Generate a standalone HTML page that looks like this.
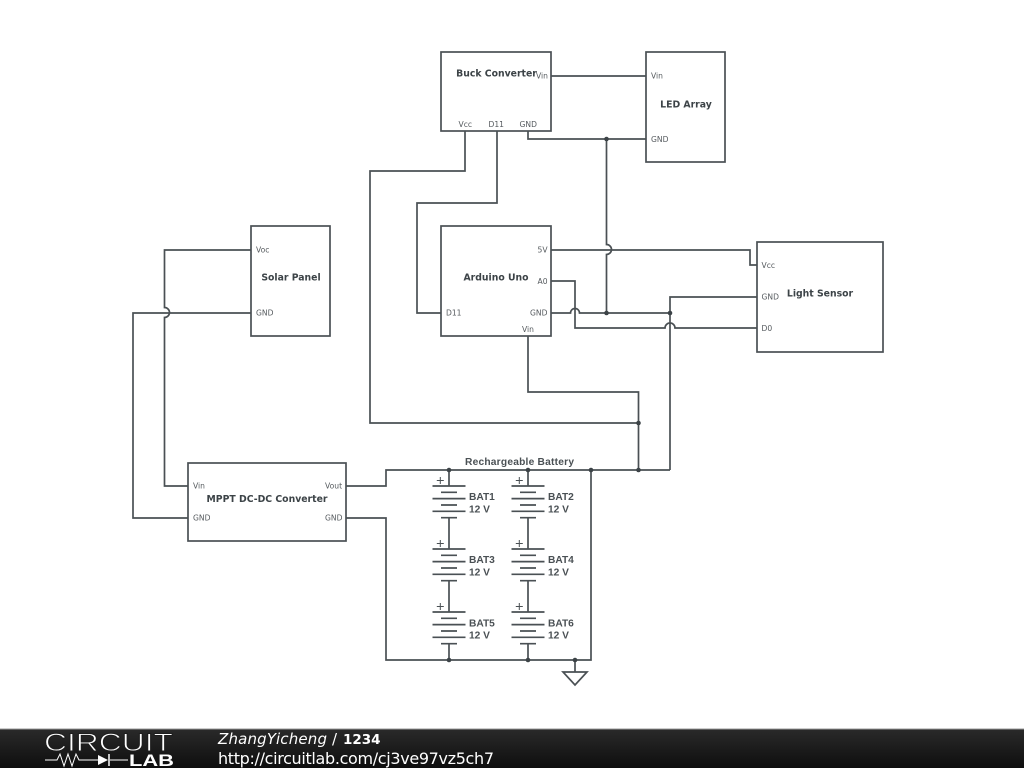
<!DOCTYPE html>
<html><head><meta charset="utf-8"><style>
html,body{margin:0;padding:0;background:#fff;width:1024px;height:768px;overflow:hidden}
svg{display:block}
.w{fill:none;stroke:#4a5054;stroke-width:1.7}
.b{fill:#fff;stroke:#4a5054;stroke-width:1.7}
.p{font:7.6px "DejaVu Sans",sans-serif;fill:#555a5e}
.t{font:bold 9.3px "DejaVu Sans",sans-serif;fill:#3c4347;text-anchor:middle}
.l{font:bold 10.2px "Liberation Sans",sans-serif;fill:#4a5054}
.d{fill:#3c4347}
</style></head><body>
<svg width="1024" height="768" viewBox="0 0 1024 768" xmlns="http://www.w3.org/2000/svg">
<defs>
<linearGradient id="g" x1="0" y1="0" x2="0" y2="1"><stop offset="0" stop-color="#2a2a2a"/><stop offset="1" stop-color="#0e0e0e"/></linearGradient>
<g id="bat" class="w">
<path d="M-16.500 0H16.500M-8 6.300H8M-16.500 12.600H16.500M-8 19H8M-16.500 25.300H16.500M-8 31.700H8"/>
<path d="M-12.200 -5.500H-5.200M-8.700 -9V-2" stroke-width="1"/>
</g>
</defs>
<!-- wires -->
<g class="w">
<path d="M551 76H646"/>
<path d="M528 131V139H646"/>
<path d="M606.500 139V244.500A5 5 0 0 1 606.500 254.500V313"/>
<path d="M465 131V171H370V423H638.500"/>
<path d="M497 131V203H417V313H441"/>
<path d="M551 250H750V265H757"/>
<path d="M551 281H575V328H665A5 5 0 0 1 675 328H757"/>
<path d="M551 313H570.500A4.500 4.500 0 0 1 579.500 313H670"/>
<path d="M757 297H670V470"/>
<path d="M528 336V392H638.500V470"/>
<path d="M346 486H386V470H670"/>
<path d="M346 518H386V660H591V470"/>
<path d="M575 660V672"/>
<path d="M563 672H587L575 685Z"/>
<path d="M251 250H164.500V307.500A5 5 0 0 1 164.500 317.500V486H188"/>
<path d="M251 313H133V518H188"/>
<path d="M449 470V486M449 518V549M449 581V612M449 644V660"/>
<path d="M528 470V486M528 518V549M528 581V612M528 644V660"/>
</g>
<!-- batteries -->
<use href="#bat" x="449" y="486"/><use href="#bat" x="528" y="486"/>
<use href="#bat" x="449" y="549"/><use href="#bat" x="528" y="549"/>
<use href="#bat" x="449" y="612"/><use href="#bat" x="528" y="612"/>
<!-- dots -->
<g class="d">
<circle cx="606.500" cy="139" r="2.300"/><circle cx="606.500" cy="313" r="2.300"/><circle cx="670" cy="313" r="2.300"/>
<circle cx="638.500" cy="423" r="2.300"/><circle cx="638.500" cy="470" r="2.300"/>
<circle cx="449" cy="470" r="2.300"/><circle cx="528" cy="470" r="2.300"/><circle cx="591" cy="470" r="2.300"/>
<circle cx="449" cy="660" r="2.300"/><circle cx="528" cy="660" r="2.300"/><circle cx="575" cy="660" r="2.300"/>
</g>
<!-- boxes -->
<rect class="b" x="441" y="52" width="110" height="79"/>
<rect class="b" x="646" y="52" width="79" height="110"/>
<rect class="b" x="251" y="226" width="79" height="110"/>
<rect class="b" x="441" y="226" width="110" height="110"/>
<rect class="b" x="757" y="242" width="126" height="110"/>
<rect class="b" x="188" y="463" width="158" height="78"/>
<!-- titles -->
<text class="t" x="496.500" y="76.500">Buck Converter</text>
<text class="t" x="686" y="107.500">LED Array</text>
<text class="t" x="291" y="280.500">Solar Panel</text>
<text class="t" x="496" y="280.500">Arduino Uno</text>
<text class="t" x="820" y="296.500">Light Sensor</text>
<text class="t" x="267" y="502">MPPT DC-DC Converter</text>
<!-- pins -->
<text class="p" x="536" y="78.500">Vin</text>
<text class="p" x="458.500" y="127">Vcc</text>
<text class="p" x="488.500" y="127">D11</text>
<text class="p" x="519.500" y="127">GND</text>
<text class="p" x="651" y="78.500">Vin</text>
<text class="p" x="651" y="142">GND</text>
<text class="p" x="256" y="252.500">Voc</text>
<text class="p" x="256" y="315.500">GND</text>
<text class="p" x="537.500" y="252.500">5V</text>
<text class="p" x="537.500" y="284">A0</text>
<text class="p" x="530" y="315.500">GND</text>
<text class="p" x="446" y="315.500">D11</text>
<text class="p" x="522" y="332">Vin</text>
<text class="p" x="761.500" y="268">Vcc</text>
<text class="p" x="761.500" y="299.500">GND</text>
<text class="p" x="761.500" y="331">D0</text>
<text class="p" x="193" y="488.500">Vin</text>
<text class="p" x="193" y="520.500">GND</text>
<text class="p" x="325" y="488.500">Vout</text>
<text class="p" x="325" y="520.500">GND</text>
<!-- battery labels -->
<text class="l" x="465" y="465" textLength="109">Rechargeable Battery</text>
<text class="l" x="469" y="500">BAT1</text><text class="l" x="469" y="512.500">12 V</text>
<text class="l" x="548" y="500">BAT2</text><text class="l" x="548" y="512.500">12 V</text>
<text class="l" x="469" y="563">BAT3</text><text class="l" x="469" y="575.500">12 V</text>
<text class="l" x="548" y="563">BAT4</text><text class="l" x="548" y="575.500">12 V</text>
<text class="l" x="469" y="626.500">BAT5</text><text class="l" x="469" y="638.500">12 V</text>
<text class="l" x="548" y="626.500">BAT6</text><text class="l" x="548" y="638.500">12 V</text>
<!-- footer -->
<rect x="0" y="729" width="1024" height="39" fill="url(#g)"/>
<rect x="0" y="728.500" width="1024" height="1" fill="#999"/>
<text x="44" y="751" textLength="129" lengthAdjust="spacingAndGlyphs" style="font:25px 'Liberation Sans',sans-serif" fill="#fff">CIRCUIT</text>
<text x="44" y="751" textLength="129" lengthAdjust="spacingAndGlyphs" style="font:25px 'Liberation Sans',sans-serif" fill="none" stroke="#1e1e1e" stroke-width="0.900">CIRCUIT</text>
<text x="129" y="766" textLength="45" lengthAdjust="spacingAndGlyphs" style="font:bold 17px 'Liberation Sans',sans-serif" fill="#fff">LAB</text>
<path d="M45 760H57L60 754L64 766L68 754L72 766L76 754L79 760H98M110 760H128" fill="none" stroke="#fff" stroke-width="1"/>
<path d="M98 755V765L108 760Z" fill="#fff"/>
<path d="M109 754V766" stroke="#fff" stroke-width="1.500"/>
<text x="218" y="744" textLength="109" style="font:italic 15px 'DejaVu Sans',sans-serif" fill="#fff">ZhangYicheng</text>
<text x="332" y="744" style="font:15px 'DejaVu Sans',sans-serif" fill="#fff">/</text>
<text x="343" y="744" style="font:bold 13.500px 'DejaVu Sans',sans-serif" fill="#fff">1234</text>
<text x="218" y="764" textLength="276" style="font:16px 'DejaVu Sans',sans-serif" fill="#fff">http://circuitlab.com/cj3ve97vz5ch7</text>
</svg>
</body></html>
